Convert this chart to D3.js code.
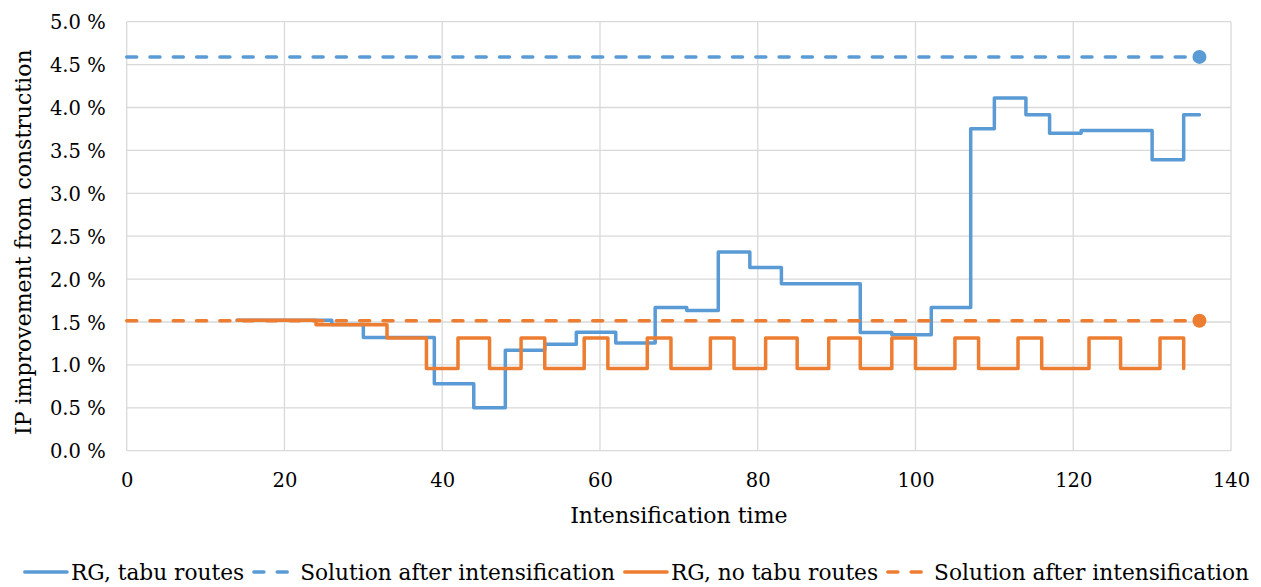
<!DOCTYPE html>
<html>
<head>
<meta charset="utf-8">
<script src="https://cdn.jsdelivr.net/npm/d3@7"></script>
<style>
  html, body { margin: 0; padding: 0; background: #fff; }
  svg text { font-family: "DejaVu Serif", serif; fill: #000; }
</style>
</head>
<body>
<svg id="chart" width="1261" height="587"></svg>
<script>
// Intensification time at which each step starts, and the IP improvement (%) from then on
const tabuTimes  = [14, 26, 30, 39, 44, 48, 53, 57, 62, 67, 71, 75, 79, 83, 93, 97, 102, 107, 110, 114, 117, 121, 130, 134, 136];
const tabuValues = [1.52, 1.47, 1.32, 0.78, 0.50, 1.17, 1.24, 1.38, 1.255, 1.67, 1.635, 2.316, 2.136, 1.946, 1.379, 1.352, 1.67, 3.753, 4.11, 3.916, 3.70, 3.733, 3.39, 3.916, 3.916];

const noTabuTimes  = [14, 24, 33, 38, 42, 46, 50, 53, 58, 61, 66, 69, 74, 77, 81, 85, 89, 93, 97, 100, 105, 108, 113, 116, 122, 126, 131, 134];
const noTabuValues = [1.52, 1.468, 1.313, 0.959, 1.313, 0.959, 1.313, 0.959, 1.313, 0.959, 1.313, 0.959, 1.313, 0.959, 1.313, 0.959, 1.313, 0.959, 1.313, 0.959, 1.313, 0.959, 1.313, 0.959, 1.313, 0.959, 1.313, 0.959];

// Final solutions after intensification (reached at t = 136)
const finalTime = 136;
const tabuFinal = 4.59;
const noTabuFinal = 1.515;

const xTicks = [0, 20, 40, 60, 80, 100, 120, 140];
const yTicks = [0, 0.5, 1.0, 1.5, 2.0, 2.5, 3.0, 3.5, 4.0, 4.5, 5.0];

const seriesNames = ["RG, tabu routes", "Solution after intensification", "RG, no tabu routes", "Solution after intensification"];

const BLUE = "#5B9BD5";
const ORANGE = "#ED7D31";

const svg = d3.select("#chart");
const plotLeft = 126.7, plotRight = 1231, plotTop = 21.7, plotBottom = 450.7;

const x = d3.scaleLinear().domain([0, 140]).range([plotLeft, plotRight]);
const y = d3.scaleLinear().domain([0, 5]).range([plotBottom, plotTop]);

// grid
const grid = svg.append("g");
grid.selectAll("line.h").data(yTicks).join("line")
  .attr("x1", plotLeft).attr("x2", plotRight)
  .attr("y1", d => y(d)).attr("y2", d => y(d))
  .attr("stroke", "#d9d9d9").attr("stroke-width", 1.3);
grid.selectAll("line.v").data(xTicks).join("line")
  .attr("y1", plotTop).attr("y2", plotBottom)
  .attr("x1", d => x(d)).attr("x2", d => x(d))
  .attr("stroke", "#d9d9d9").attr("stroke-width", 1.3);

// axes (labels only, no tick marks)
const yAxis = svg.append("g").attr("transform", `translate(${plotLeft - 21},0)`)
  .call(d3.axisLeft(y).tickValues(yTicks).tickSize(0).tickPadding(0)
    .tickFormat(d => d3.format(".1f")(d) + " %"));
yAxis.select(".domain").remove();
yAxis.selectAll("text").attr("font-size", 19.5).attr("font-family", "DejaVu Serif").attr("dy", "0.36em").attr("fill", "#000");

const xAxis = svg.append("g").attr("transform", `translate(0,${plotBottom + 22})`)
  .call(d3.axisBottom(x).tickValues(xTicks).tickSize(0).tickPadding(0));
xAxis.select(".domain").remove();
xAxis.selectAll("text").attr("font-size", 19.5).attr("font-family", "DejaVu Serif").attr("dy", "0.71em").attr("fill", "#000");

// axis titles
svg.append("text").attr("x", (plotLeft + plotRight) / 2).attr("y", 523)
  .attr("text-anchor", "middle").attr("font-size", 22).text("Intensification time");
svg.append("text").attr("transform", `translate(31,${(plotTop + plotBottom) / 2 + 6}) rotate(-90)`)
  .attr("text-anchor", "middle").attr("font-size", 22).text("IP improvement from construction");

// series
const line = d3.line().x(d => x(d[0])).y(d => y(d[1])).curve(d3.curveStepAfter);
const flat = d3.line().x(d => x(d[0])).y(d => y(d[1]));
const tabu = d3.zip(tabuTimes, tabuValues);
const noTabu = d3.zip(noTabuTimes, noTabuValues);

svg.append("path").datum(tabu).attr("d", line)
  .attr("fill", "none").attr("stroke", BLUE).attr("stroke-width", 3.5).attr("stroke-linejoin", "round").attr("stroke-linecap", "round");
svg.append("path").datum([[0, tabuFinal], [finalTime, tabuFinal]]).attr("d", flat)
  .attr("fill", "none").attr("stroke", BLUE).attr("stroke-width", 3.5).attr("stroke-dasharray", "10 13.3").attr("stroke-linecap", "round");
svg.append("circle").attr("cx", x(finalTime)).attr("cy", y(tabuFinal)).attr("r", 7).attr("fill", BLUE);

svg.append("path").datum(noTabu).attr("d", line)
  .attr("fill", "none").attr("stroke", ORANGE).attr("stroke-width", 3.5).attr("stroke-linejoin", "round").attr("stroke-linecap", "round");
svg.append("path").datum([[0, noTabuFinal], [finalTime, noTabuFinal]]).attr("d", flat)
  .attr("fill", "none").attr("stroke", ORANGE).attr("stroke-width", 3.5).attr("stroke-dasharray", "10 13.3").attr("stroke-linecap", "round");
svg.append("circle").attr("cx", x(finalTime)).attr("cy", y(noTabuFinal)).attr("r", 7).attr("fill", ORANGE);

// legend: symbol, label, then the next entry
const legendItems = [
  { name: seriesNames[0], color: BLUE, dashed: false },
  { name: seriesNames[1], color: BLUE, dashed: true },
  { name: seriesNames[2], color: ORANGE, dashed: false },
  { name: seriesNames[3], color: ORANGE, dashed: true }
];
const legend = svg.append("g");
let lx = 0;
const ly = 572;
legendItems.forEach(item => {
  const g = legend.append("g").attr("transform", `translate(${lx},0)`);
  g.append("line").attr("x1", 1.75).attr("x2", 44).attr("y1", ly).attr("y2", ly)
    .attr("stroke", item.color).attr("stroke-width", 3.5).attr("stroke-linecap", "round")
    .attr("stroke-dasharray", item.dashed ? "10 13.3" : null);
  const t = g.append("text").attr("x", 48).attr("y", ly + 8).attr("font-size", 21.7).text(item.name);
  lx += 48 + t.node().getComputedTextLength() + 8;
});
const legendWidth = lx - 8;
legend.attr("transform", `translate(${636 - legendWidth / 2},0)`);
</script>
</body>
</html>
